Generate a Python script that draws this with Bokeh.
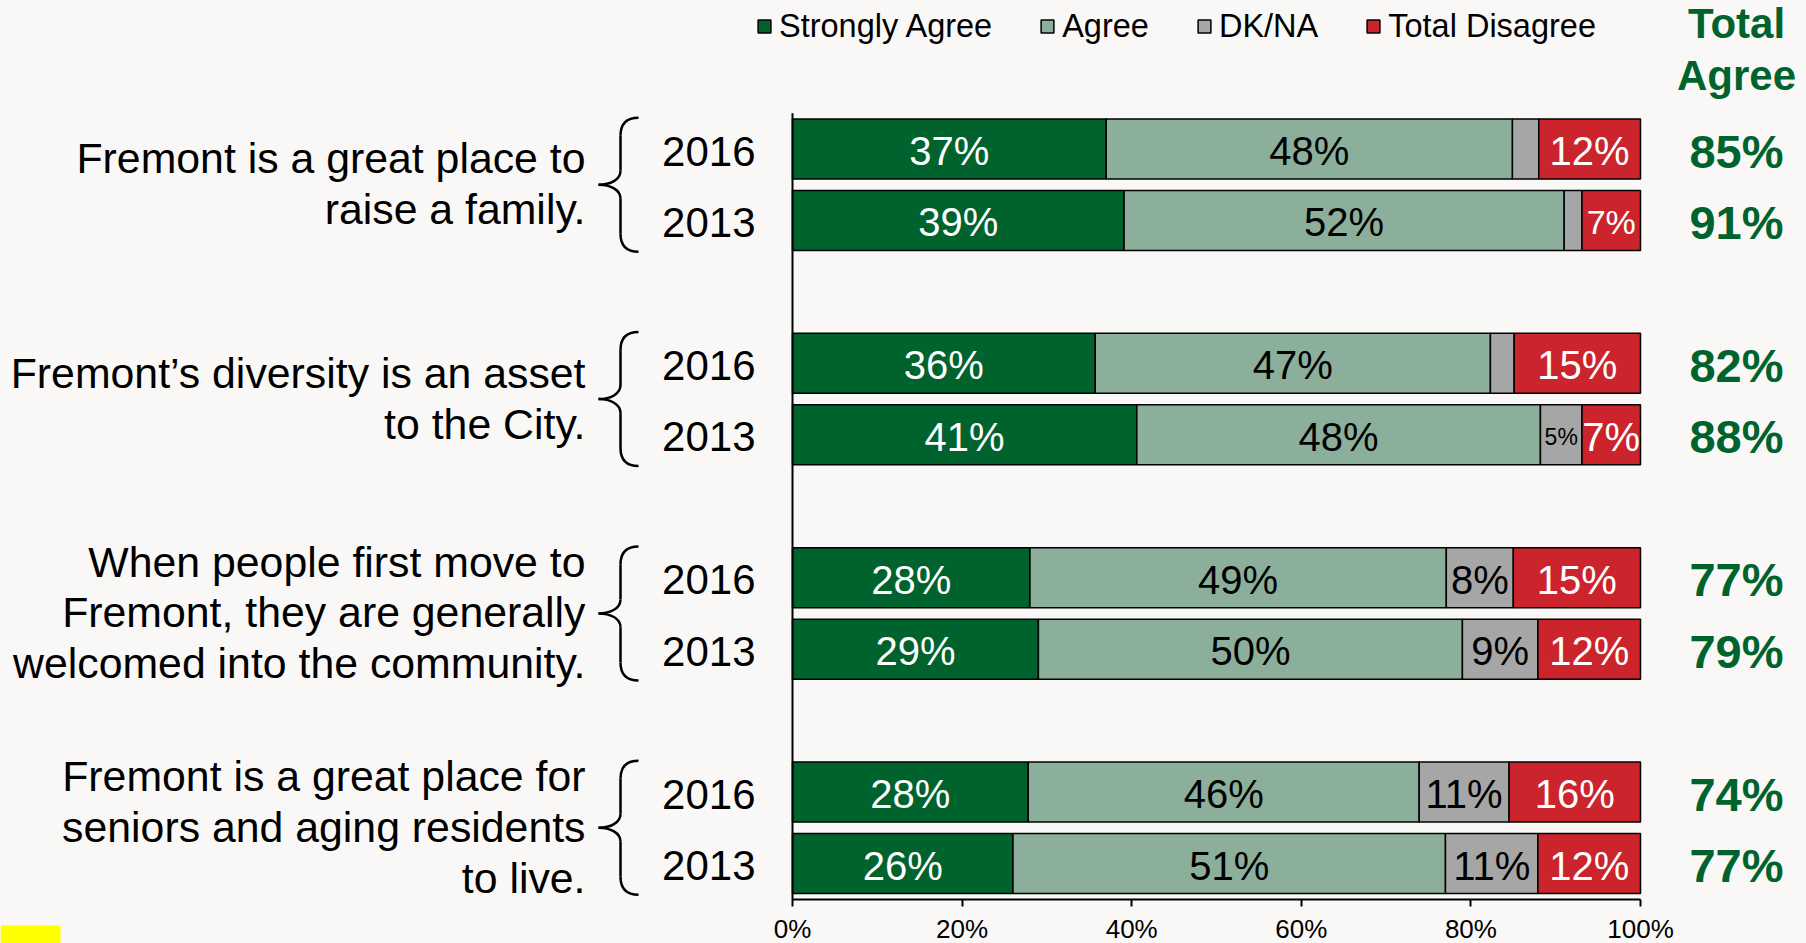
from bokeh.plotting import figure
from bokeh.models import ColumnDataSource, Range1d, FixedTicker, PrintfTickFormatter, BoxAnnotation
from bokeh.core.properties import value
from bokeh.embed import file_html
from bokeh.resources import INLINE

# ---------------- data ----------------
questions = [
    "Fremont is a great place to\nraise a family.",
    "Fremont\u2019s diversity is an asset\nto the City.",
    "When people first move to\nFremont, they are generally\nwelcomed into the community.",
    "Fremont is a great place for\nseniors and aging residents\nto live.",
]
years = ["2016", "2013"]
series_names = ["Strongly Agree", "Agree", "DK/NA", "Total Disagree"]
# order: Q1-2016, Q1-2013, Q2-2016, Q2-2013, ...
strongly_agree = [37.0, 39.1, 35.7, 40.6, 28.0, 29.0, 27.8, 26.0]
agree = [47.9, 51.9, 46.6, 47.6, 49.1, 50.0, 46.1, 51.0]
dk_na = [3.1, 2.1, 2.8, 4.9, 7.9, 8.9, 10.6, 10.9]
total_disagree = [12.0, 6.9, 14.9, 6.9, 15.0, 12.1, 15.5, 12.1]
total_agree = [85, 91, 82, 88, 77, 79, 74, 77]
x_ticks = [0, 20, 40, 60, 80, 100]

# ---------------- style / layout ----------------
FONT = "Liberation Sans"
BG = "#F9F8F6"
GREEN = "#00632E"
COLORS = ["#00632E", "#8BAF9B", "#A6A6A6", "#CC242C"]
LABEL_COLORS = ["white", "black", "black", "white"]
W, H = 1806, 943
AXIS_PX = 899.0      # canvas y of the x-axis line
ZERO_PX = 792.0      # canvas x of 0%
PX_PER_PCT = 8.48
ROW0_PX = 148.5      # canvas y of first bar centre
ROW_PX = 71.45
BAR_H = 0.84
SIZE_OVERRIDES = {(1, 3): "34px", (3, 2): "23px"}
DK_MIN_LABEL = 4.5

n = len(strongly_agree)
rows = [(i // 2) * 3 + (i % 2) for i in range(n)]
group_centres = [g * 3 + 0.5 for g in range(len(questions))]

x_range = Range1d(-ZERO_PX / PX_PER_PCT, (W - ZERO_PX) / PX_PER_PCT)
y_range = Range1d((H - ROW0_PX) / ROW_PX, -ROW0_PX / ROW_PX)
y_axis_val = (AXIS_PX - ROW0_PX) / ROW_PX

p = figure(width=W, height=H, x_range=x_range, y_range=y_range,
           output_backend="svg", toolbar_location=None,
           min_border_left=0, min_border_right=0, min_border_top=0, min_border_bottom=0,
           background_fill_color=BG, border_fill_color=BG, outline_line_color=None,
           y_axis_location=None)
p.grid.visible = False

src = ColumnDataSource(dict(row=rows, sa=strongly_agree, ag=agree, dk=dk_na, td=total_disagree))
p.hbar_stack(["sa", "ag", "dk", "td"], y="row", height=BAR_H, color=COLORS,
             line_color="black", line_width=1.5, source=src, legend_label=series_names)

# segment labels
series = [strongly_agree, agree, dk_na, total_disagree]
lx, ly, lt, lc, ls = [], [], [], [], []
for i in range(n):
    left = 0.0
    for s, vals in enumerate(series):
        v = vals[i]
        if not (s == 2 and v < DK_MIN_LABEL):
            lx.append(left + v / 2)
            ly.append(rows[i])
            lt.append(f"{int(v + 0.5)}%")
            lc.append(LABEL_COLORS[s])
            ls.append(SIZE_OVERRIDES.get((i, s), "40px"))
        left += v
lab_src = ColumnDataSource(dict(x=lx, y=ly, text=lt, color=lc, size=ls))
p.text(x="x", y="y", text="text", source=lab_src, text_color="color", text_font_size="size",
       text_font=value(FONT), text_align="center", text_baseline="middle", y_offset=2)

# total agree column
p.text(x=[100] * n, y=rows, text=[f"{t}%" for t in total_agree], x_offset=96, y_offset=2,
       text_font=value(FONT), text_font_style="bold", text_font_size="47px",
       text_color=GREEN, text_align="center", text_baseline="middle")
p.text(x=[100], y=[-0.5], text=["Total\nAgree"], x_offset=96, y_offset=-64,
       text_font=value(FONT), text_font_style="bold", text_font_size="42px",
       text_color=GREEN, text_align="center", text_baseline="middle", text_line_height=1.1)

# years
p.text(x=[0] * n, y=rows, text=[years[i % 2] for i in range(n)], x_offset=-37, y_offset=2,
       text_font=value(FONT), text_font_size="42px", text_color="black",
       text_align="right", text_baseline="middle")

# questions
p.text(x=[0] * len(questions), y=group_centres, text=questions, x_offset=-207, y_offset=-1,
       text_font=value(FONT), text_font_size="42.8px", text_color="black",
       text_align="right", text_baseline="middle", text_line_height=1.06)

# braces (pixel offsets relative to 0% / group centre)
def bx(dx):
    return dx / PX_PER_PCT

def by(gc, dy):
    return gc + dy / ROW_PX

b = dict(x0=[], y0=[], x1=[], y1=[], cx0=[], cy0=[], cx1=[], cy1=[])
sg = dict(x0=[], y0=[], x1=[], y1=[])
curves = [
    ((-154, -67), (-166, -67), (-172, -61), (-172, -49)),
    ((-172, -14), (-172, -5), (-182, 0), (-194, 0)),
    ((-194, 0), (-182, 0), (-172, 5), (-172, 14)),
    ((-172, 49), (-172, 61), (-166, 67), (-154, 67)),
]
lines = [((-172, -49), (-172, -14)), ((-172, 14), (-172, 49))]
for gc in group_centres:
    for (p0, c0, c1, p1) in curves:
        b["x0"].append(bx(p0[0])); b["y0"].append(by(gc, p0[1]))
        b["cx0"].append(bx(c0[0])); b["cy0"].append(by(gc, c0[1]))
        b["cx1"].append(bx(c1[0])); b["cy1"].append(by(gc, c1[1]))
        b["x1"].append(bx(p1[0])); b["y1"].append(by(gc, p1[1]))
    for (a, c) in lines:
        sg["x0"].append(bx(a[0])); sg["y0"].append(by(gc, a[1]))
        sg["x1"].append(bx(c[0])); sg["y1"].append(by(gc, c[1]))
p.bezier(source=ColumnDataSource(b), x0="x0", y0="y0", x1="x1", y1="y1",
         cx0="cx0", cy0="cy0", cx1="cx1", cy1="cy1", line_color="black", line_width=2.5)
p.segment(source=ColumnDataSource(sg), x0="x0", y0="y0", x1="x1", y1="y1",
          line_color="black", line_width=2.5)

# vertical axis line at 0%
p.segment(x0=[0], y0=[-0.5], x1=[0], y1=[y_axis_val], line_color="black", line_width=2)

# x axis, drawn at a fixed location inside the frame
ax = p.xaxis[0]
ax.fixed_location = y_axis_val
ax.ticker = FixedTicker(ticks=x_ticks)
ax.formatter = PrintfTickFormatter(format="%d%%")
ax.bounds = (0, 100)
ax.axis_line_width = 2
ax.axis_line_color = "black"
ax.major_tick_line_width = 2
ax.major_tick_line_color = "black"
ax.major_tick_out = 7
ax.major_tick_in = 0
ax.minor_tick_out = 0
ax.minor_tick_in = 0
ax.major_label_standoff = 7
ax.major_label_text_font = FONT
ax.major_label_text_font_size = "26px"
ax.major_label_text_color = "black"

# legend
lg = p.legend[0]
lg.orientation = "horizontal"
lg.location = (756, H - 44.5)
lg.label_text_font = FONT
lg.label_text_font_size = "32.5px"
lg.label_text_color = "black"
lg.glyph_width = 16
lg.glyph_height = 16
lg.label_standoff = 7
lg.spacing = 47
lg.padding = 0
lg.margin = 0
lg.border_line_alpha = 0
lg.background_fill_alpha = 0

# yellow marker at bottom-left corner
p.add_layout(BoxAnnotation(left=0, right=60, top=925, bottom=943,
                           left_units="canvas", right_units="canvas",
                           top_units="canvas", bottom_units="canvas",
                           fill_color="#FFFF00", fill_alpha=1, line_color=None))

open("out.html", "w").write(file_html(p, INLINE))
